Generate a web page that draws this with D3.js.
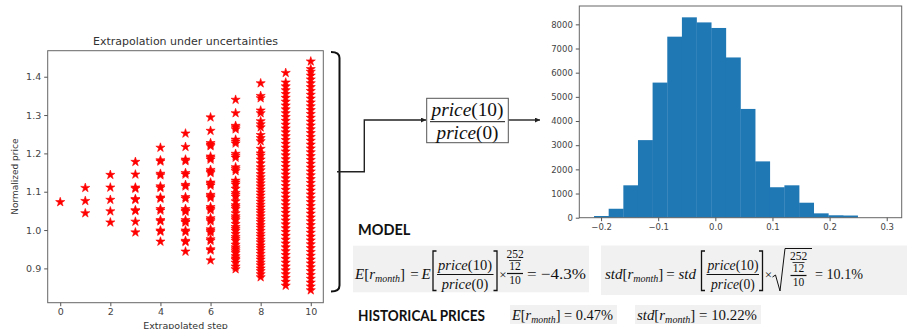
<!DOCTYPE html>
<html>
<head>
<meta charset="utf-8">
<script src="https://cdn.jsdelivr.net/npm/d3@7"></script>
<style>
  body { margin: 0; background: #fff; }
  svg { display: block; }
</style>
</head>
<body>
<svg id="chart" width="907" height="329"></svg>
<script>
// ---- Scatter data: normalized price at each extrapolated step ----
const scatterSteps = [0, 1, 2, 3, 4, 5, 6, 7, 8, 9, 10];
const step0 = [1.073];
const step1 = [1.044, 1.076, 1.110];
const step2 = [1.020, 1.049, 1.079, 1.111, 1.144];
const step3 = [0.994, 1.022, 1.050, 1.052, 1.079, 1.081, 1.108, 1.111, 1.145, 1.178];
const step4 = [0.970, 0.996, 0.999, 1.023, 1.026, 1.051, 1.055, 1.082, 1.085, 1.110, 1.114, 1.143, 1.147, 1.179, 1.182, 1.215];
const step5 = [0.944, 0.969, 0.972, 0.995, 0.999, 1.020, 1.022, 1.026, 1.048, 1.051, 1.055, 1.082, 1.086, 1.114, 1.118,
  1.145, 1.149, 1.180, 1.184, 1.217, 1.252];
const step6 = [0.921, 0.947, 0.950, 0.972, 0.976, 0.994, 0.998, 1.002, 1.023, 1.027, 1.031, 1.052, 1.056, 1.060, 1.084,
  1.088, 1.092, 1.116, 1.120, 1.124, 1.149, 1.153, 1.157, 1.184, 1.188, 1.192, 1.219, 1.223, 1.227, 1.259, 1.294];
const step7 = [0.898, 0.905, 0.915, 0.922, 0.926, 0.932, 0.940, 0.945, 0.950, 0.955, 0.962, 0.972, 0.977, 0.982, 0.990,
  0.998, 1.003, 1.008, 1.016, 1.026, 1.031, 1.036, 1.044, 1.055, 1.060, 1.065, 1.075, 1.087, 1.092, 1.097, 1.108,
  1.119, 1.124, 1.129, 1.154, 1.159, 1.164, 1.189, 1.194, 1.199, 1.226, 1.231, 1.236, 1.263, 1.268, 1.272, 1.305, 1.340];
const step8 = [0.877, 0.885, 0.893, 0.900, 0.908, 0.915, 0.923, 0.930, 0.938, 0.946, 0.953, 0.960, 0.968, 0.975, 0.983,
  0.990, 0.998, 1.006, 1.013, 1.021, 1.028, 1.036, 1.044, 1.051, 1.059, 1.066, 1.074, 1.082, 1.090, 1.098, 1.106,
  1.114, 1.122, 1.130, 1.138, 1.146, 1.156, 1.164, 1.174, 1.184, 1.194, 1.200, 1.212, 1.232, 1.240, 1.248, 1.268,
  1.276, 1.284, 1.305, 1.312, 1.344, 1.350, 1.383];
const step9 = [0.855, 0.865, 0.875, 0.885, 0.895, 0.905, 0.915, 0.925, 0.935, 0.945, 0.955, 0.965, 0.975, 0.985, 0.995,
  1.005, 1.015, 1.025, 1.035, 1.045, 1.055, 1.065, 1.075, 1.085, 1.095, 1.105, 1.115, 1.125, 1.135, 1.145, 1.155,
  1.165, 1.175, 1.185, 1.195, 1.205, 1.215, 1.225, 1.235, 1.245, 1.255, 1.265, 1.275, 1.285, 1.295, 1.305, 1.315,
  1.325, 1.335, 1.345, 1.355, 1.365, 1.375, 1.385, 1.410];
const step10 = [0.843, 0.853, 0.863, 0.873, 0.883, 0.893, 0.903, 0.913, 0.923, 0.933, 0.943, 0.953, 0.963, 0.973, 0.983,
  0.993, 1.003, 1.013, 1.023, 1.033, 1.043, 1.053, 1.063, 1.073, 1.083, 1.093, 1.103, 1.113, 1.123, 1.133, 1.143,
  1.153, 1.163, 1.173, 1.183, 1.193, 1.203, 1.213, 1.223, 1.233, 1.243, 1.253, 1.263, 1.273, 1.283, 1.293, 1.303,
  1.313, 1.323, 1.333, 1.343, 1.353, 1.363, 1.373, 1.383, 1.393, 1.403, 1.413, 1.420, 1.440];
const pricesByStep = [step0, step1, step2, step3, step4, step5, step6, step7, step8, step9, step10];
const scatterXTicks = [0, 2, 4, 6, 8, 10];
const scatterYTicks = [0.9, 1.0, 1.1, 1.2, 1.3, 1.4];

// ---- Histogram data: price(10)/price(0) - 1 ----
const histEdges = [-0.2123, -0.1867, -0.1610, -0.1354, -0.1098, -0.0841, -0.0585, -0.0329, -0.0072, 0.0184,
  0.0440, 0.0697, 0.0953, 0.1209, 0.1466, 0.1722, 0.1978, 0.2235, 0.2491];
const histCounts = [70, 370, 1340, 3210, 5590, 7490, 8290, 8080, 7850, 6630, 4500, 2330, 1260, 1340, 620, 180, 100, 90];
const histXTicks = [-0.2, -0.1, 0.0, 0.1, 0.2, 0.3];
const histYTicks = [0, 1000, 2000, 3000, 4000, 5000, 6000, 7000, 8000];

// ---- Result text ----
const modelMean = '−4.3%';
const modelStd = '10.1%';
const histMean = '0.47%';
const histStd = '10.22%';

const svg = d3.select('#chart');
svg.append('rect').attr('width', 907).attr('height', 329).attr('fill', '#fff');

const axisFont = 'DejaVu Sans, sans-serif';
const mathFont = 'Liberation Serif, DejaVu Serif, serif';

// arrow head marker
svg.append('defs').append('marker')
  .attr('id', 'arrow')
  .attr('viewBox', '0 0 10 10')
  .attr('refX', 10).attr('refY', 5)
  .attr('markerWidth', 5).attr('markerHeight', 5)
  .attr('markerUnits', 'userSpaceOnUse')
  .attr('orient', 'auto')
  .append('path').attr('d', 'M0,0 L10,5 L0,10 z').attr('fill', '#222');

function styleAxis(g, size) {
  g.attr('font-family', axisFont).attr('font-size', size);
  g.select('.domain').remove();
  g.selectAll('.tick line').attr('stroke', '#555');
  g.selectAll('.tick text').attr('fill', '#444');
}

// ================= Scatter plot =================
const sc = { left: 47.7, right: 323.3, top: 50.7, bottom: 302.7 };
const xS = d3.scaleLinear().domain([-0.5, 10.5]).range([sc.left, sc.right]);
const yS = d3.scaleLinear().domain([0.8105, 1.4679]).range([sc.bottom, sc.top]);

const scatterPoints = [];
scatterSteps.forEach((s, i) => pricesByStep[i].forEach(p => scatterPoints.push({ step: s, price: p })));

const star = d3.symbol().type(d3.symbolStar).size(26);
svg.append('g').selectAll('path')
  .data(scatterPoints)
  .join('path')
  .attr('d', star)
  .attr('transform', d => `translate(${xS(d.step)},${yS(d.price)})`)
  .attr('fill', '#ff0000')
  .attr('stroke', '#ff0000').attr('stroke-width', 0.6).attr('stroke-linejoin', 'round');

svg.append('rect')
  .attr('x', sc.left).attr('y', sc.top)
  .attr('width', sc.right - sc.left).attr('height', sc.bottom - sc.top)
  .attr('fill', 'none').attr('stroke', '#666').attr('stroke-width', 1);

svg.append('g')
  .attr('transform', `translate(0,${sc.bottom})`)
  .call(d3.axisBottom(xS).tickValues(scatterXTicks).tickFormat(d3.format('d')).tickSize(3.5).tickPadding(2.5))
  .call(g => styleAxis(g, 9.5));
svg.append('g')
  .attr('transform', `translate(${sc.left},0)`)
  .call(d3.axisLeft(yS).tickValues(scatterYTicks).tickFormat(d3.format('.1f')).tickSize(3.5).tickPadding(3))
  .call(g => styleAxis(g, 9.5));

svg.append('text')
  .attr('x', (sc.left + sc.right) / 2).attr('y', 44.5)
  .attr('text-anchor', 'middle')
  .attr('font-family', axisFont).attr('font-size', 11).attr('fill', '#333')
  .text('Extrapolation under uncertainties');
svg.append('text')
  .attr('x', (sc.left + sc.right) / 2).attr('y', 328.5)
  .attr('text-anchor', 'middle')
  .attr('font-family', axisFont).attr('font-size', 9.5).attr('fill', '#333')
  .text('Extrapolated step');
svg.append('text')
  .attr('transform', `translate(17.5,${(sc.top + sc.bottom) / 2}) rotate(-90)`)
  .attr('text-anchor', 'middle')
  .attr('font-family', axisFont).attr('font-size', 9).attr('fill', '#333')
  .text('Normalized price');

// bracket around the scatter plot and connector
svg.append('path')
  .attr('d', 'M331,52 Q339.5,52 339.5,58 V285.5 Q339.5,291.5 331,291.5')
  .attr('fill', 'none').attr('stroke', '#111').attr('stroke-width', 2);
svg.append('path')
  .attr('d', 'M337,171.7 H364.3 V120 H426')
  .attr('fill', 'none').attr('stroke', '#222').attr('stroke-width', 1.4)
  .attr('marker-end', 'url(#arrow)');
svg.append('path')
  .attr('d', 'M508.5,120 H540')
  .attr('fill', 'none').attr('stroke', '#222').attr('stroke-width', 1.4)
  .attr('marker-end', 'url(#arrow)');

// math helpers
function mtext(x, y, parts, size, anchor, len) {
  const t = svg.append('text')
    .attr('x', x).attr('y', y)
    .attr('font-family', mathFont).attr('font-size', size)
    .attr('text-anchor', anchor || 'start').attr('fill', '#111');
  parts.forEach(p => {
    t.append('tspan')
      .attr('font-style', p.i ? 'italic' : 'normal')
      .attr('font-size', p.s || size)
      .attr('dy', p.dy || 0)
      .text(p.t);
  });
  if (len) t.attr('textLength', len).attr('lengthAdjust', 'spacingAndGlyphs');
  return t;
}
function hline(x1, x2, y, w) {
  svg.append('line').attr('x1', x1).attr('x2', x2).attr('y1', y).attr('y2', y)
    .attr('stroke', '#111').attr('stroke-width', w || 1);
}
function bracket(x, top, bottom, dir) {
  const hook = 3.5 * dir;
  svg.append('path')
    .attr('d', `M${x + hook},${top} H${x} V${bottom} H${x + hook}`)
    .attr('fill', 'none').attr('stroke', '#111').attr('stroke-width', 1.3);
}
function priceFrac(cx, numY, barY, denY, x1, x2, size, len) {
  mtext(cx, numY, [{ t: 'price', i: 1 }, { t: '(10)' }], size, 'middle', len);
  hline(x1, x2, barY, 1);
  mtext(cx, denY, [{ t: 'price', i: 1 }, { t: '(0)' }], size, 'middle', len ? len * 0.86 : null);
}
function stackedFrac(cx, top, size) {
  // (252 / 12) / 10
  mtext(cx, top + 8.5, [{ t: '252' }], size, 'middle');
  hline(cx - 6, cx + 6, top + 11, 0.8);
  mtext(cx, top + 20.5, [{ t: '12' }], size, 'middle');
  hline(cx - 8, cx + 8, top + 24, 1.2);
  mtext(cx, top + 34.5, [{ t: '10' }], size, 'middle');
}
const rMonth = [{ t: 'r', i: 1 }, { t: 'month', i: 1, s: 10, dy: 3 }, { t: ']', dy: -3 }];

// middle box with the ratio
svg.append('rect')
  .attr('x', 426.7).attr('y', 98.3).attr('width', 81.6).attr('height', 44.4)
  .attr('fill', '#fff').attr('stroke', '#555').attr('stroke-width', 1);
priceFrac(467.5, 115.5, 121.7, 138.5, 430, 505, 18.5, 72);

// ================= Histogram =================
const hs = { left: 579.3, right: 901.7, top: 6, bottom: 217.7 };
const xH = d3.scaleLinear().domain([-0.2381, 0.3262]).range([hs.left, hs.right]);
const yH = d3.scaleLinear().domain([0, 8759]).range([hs.bottom, hs.top]);

const bins = histCounts.map((c, i) => ({ x0: histEdges[i], x1: histEdges[i + 1], count: c }));
svg.append('g').selectAll('rect')
  .data(bins)
  .join('rect')
  .attr('x', d => xH(d.x0))
  .attr('width', d => xH(d.x1) - xH(d.x0) + 0.3)
  .attr('y', d => yH(d.count))
  .attr('height', d => yH(0) - yH(d.count))
  .attr('fill', '#1f77b4');

svg.append('rect')
  .attr('x', hs.left).attr('y', hs.top)
  .attr('width', hs.right - hs.left).attr('height', hs.bottom - hs.top)
  .attr('fill', 'none').attr('stroke', '#666').attr('stroke-width', 1);

svg.append('g')
  .attr('transform', `translate(0,${hs.bottom})`)
  .call(d3.axisBottom(xH).tickValues(histXTicks).tickFormat(d3.format('.1f')).tickSize(3.5).tickPadding(2.5))
  .call(g => styleAxis(g, 8.5));
svg.append('g')
  .attr('transform', `translate(${hs.left},0)`)
  .call(d3.axisLeft(yH).tickValues(histYTicks).tickFormat(d3.format('d')).tickSize(3.5).tickPadding(3))
  .call(g => styleAxis(g, 8.5));

// ================= Formulas =================
const headFont = 'Lato, Open Sans, sans-serif';
svg.append('text').attr('x', 358).attr('y', 234.5)
  .attr('font-family', headFont).attr('font-weight', 'bold').attr('font-size', 14.5).attr('fill', '#111')
  .text('MODEL');
svg.append('text').attr('x', 358).attr('y', 320.5)
  .attr('font-family', headFont).attr('font-weight', 'bold').attr('font-size', 14.5).attr('fill', '#111')
  .attr('textLength', 127).attr('lengthAdjust', 'spacingAndGlyphs')
  .text('HISTORICAL PRICES');

const boxFill = '#f1f1f1';
[[353, 245.7, 236, 46.6], [601, 245.5, 306, 49.5], [510, 305, 107, 19], [635, 305, 126, 19]].forEach(b => {
  svg.append('rect').attr('x', b[0]).attr('y', b[1]).attr('width', b[2]).attr('height', b[3]).attr('fill', boxFill);
});

// model mean
mtext(355, 279, [{ t: 'E', i: 1 }, { t: '[' }].concat(rMonth), 15);
mtext(414.5, 279, [{ t: '=' }], 15, 'middle');
mtext(421.5, 279, [{ t: 'E', i: 1 }], 15);
bracket(433, 251, 290.5, 1);
priceFrac(465, 269.5, 274.5, 288.5, 437, 493.5, 14.5, 54);
bracket(497, 251, 290.5, -1);
mtext(503, 279, [{ t: '×' }], 13, 'middle');
stackedFrac(515, 249.5, 11.5);
mtext(527, 279, [{ t: '= ' + modelMean }], 15, 'start', 59);

// model std
mtext(605, 279, [{ t: 'std', i: 1 }, { t: '[' }].concat(rMonth), 15);
mtext(670.5, 279, [{ t: '=' }], 15, 'middle');
mtext(678.5, 279, [{ t: 'std', i: 1 }], 15);
bracket(701.5, 251, 290.5, 1);
priceFrac(733, 269.5, 274.5, 288.5, 706.5, 759, 14.5, 51);
bracket(762.5, 251, 290.5, -1);
mtext(768.5, 279, [{ t: '×' }], 13, 'middle');
svg.append('path')
  .attr('d', 'M772.5,277 L775.5,275 L780,291 L785,248.5 H812')
  .attr('fill', 'none').attr('stroke', '#111').attr('stroke-width', 1);
stackedFrac(798.5, 251.5, 11.5);
mtext(815, 279, [{ t: '= ' + modelStd }], 15, 'start', 48);

// historical values
mtext(512, 320, [{ t: 'E', i: 1 }, { t: '[' }, { t: 'r', i: 1 }, { t: 'month', i: 1, s: 9.5, dy: 2.5 },
  { t: ']', dy: -2.5 }, { t: ' = ' + histMean }], 14, 'start', 101);
mtext(637, 320, [{ t: 'std', i: 1 }, { t: '[' }, { t: 'r', i: 1 }, { t: 'month', i: 1, s: 9.5, dy: 2.5 },
  { t: ']', dy: -2.5 }, { t: ' = ' + histStd }], 14, 'start', 120);
</script>
</body>
</html>
